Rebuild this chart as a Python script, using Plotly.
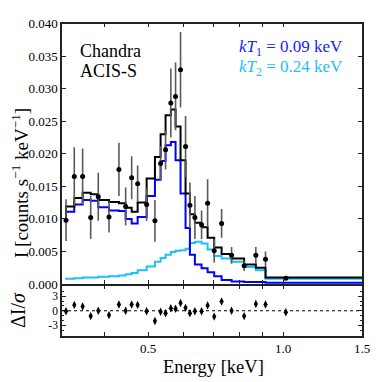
import plotly.graph_objects as go

# Chandra ACIS-S spectrum, two-temperature fit
energy = [0.3277, 0.3419, 0.3569, 0.3720, 0.3868, 0.4087, 0.4301, 0.4452, 0.4592, 0.4735,
          0.4959, 0.5175, 0.5328, 0.5466, 0.5616, 0.5754, 0.5903, 0.6057, 0.6194, 0.6355,
          0.6577, 0.6784, 0.7018, 0.7290, 0.7673, 0.8185, 0.8693, 0.9136, 1.014]
counts = [0.0098, 0.0165, 0.0165, 0.0102, 0.0134, 0.0103, 0.0176, 0.0119, 0.0163, 0.0154,
          0.0122, 0.0097, 0.0185, 0.0206, 0.0278, 0.0288, 0.0329, 0.0211, 0.0121, 0.0102,
          0.0091, 0.0124, 0.0051, 0.0093, 0.0044, 0.0028, 0.0044, 0.0038, 0.0009]
counts_err = [0.0032, 0.0045, 0.0043, 0.0033, 0.0037, 0.0024, 0.0041, 0.0029, 0.0033, 0.0028,
              0.0025, 0.0032, 0.0027, 0.0030, 0.0053, 0.0052, 0.0058, 0.0047, 0.0035, 0.0033,
              0.0022, 0.0037, 0.0018, 0.0022, 0.0013, 0.0008, 0.0013, 0.0012, 0.0003]
residual = [-0.1, 1.2, 0.9, -1.1, 0.0, -0.9, 1.3, 0.0, 1.3, 1.2,
            -0.1, -2.1, -0.2, -0.5, 0.5, 0.4, 1.6, 0.6, -0.5, -0.1,
            -0.1, 1.1, -1.2, 1.9, 0.0, -1.1, 1.4, 1.3, -0.3]

# model steps ("pre" steps on the data grid, plus upper end of the band)
e_max = 1.5
model_energy = energy + [e_max]
model_total = [0.0101, 0.0119, 0.0132, 0.0140, 0.0138, 0.0129, 0.0126, 0.0124, 0.0117, 0.0111,
               0.0125, 0.0162, 0.0195, 0.0230, 0.0259, 0.0268, 0.0242, 0.0190, 0.0139, 0.0107,
               0.0094, 0.0087, 0.0071, 0.0056, 0.0046, 0.0039, 0.0030, 0.0025, 0.0010, 0.0010]
model_kt1 = [0.0094, 0.0111, 0.0122, 0.0129, 0.0128, 0.0118, 0.0113, 0.0112, 0.0100, 0.0093,
             0.0103, 0.0135, 0.0160, 0.0189, 0.0213, 0.0218, 0.0190, 0.0139, 0.0086, 0.0045,
             0.0030, 0.0024, 0.0018, 0.0012, 0.0006, 0.0004, 0.0003, 0.0003, 0.0002, 0.0002]
model_kt2 = [0.0007, 0.0008, 0.0009, 0.0010, 0.0010, 0.0011, 0.0012, 0.0013, 0.0015, 0.0017,
             0.0021, 0.0027, 0.0034, 0.0040, 0.0045, 0.0049, 0.0051, 0.0052, 0.0054, 0.0063,
             0.0065, 0.0062, 0.0053, 0.0043, 0.0039, 0.0034, 0.0026, 0.0021, 0.0008, 0.0008]

x_ticks = [0.5, 1.0, 1.5]
x_ticktext = ["0.5", "1.0", "1.5"]
x_minor = [0.4, 0.6, 0.7, 0.8, 0.9]
y_ticks = [0.000, 0.005, 0.010, 0.015, 0.020, 0.025, 0.030, 0.035, 0.040]
y_ticktext = ["%.3f" % v for v in y_ticks]
res_ticks = [-3, 0, 3]
res_ticktext = ["-3", "0", "3"]

FONT = "Liberation Serif, DejaVu Serif, Times New Roman, serif"
W = H = 382

fig = go.Figure()

# model components
fig.add_trace(go.Scatter(x=model_energy, y=model_kt2, mode="lines", line_shape="vh",
                         line=dict(color="#1ec0f5", width=2), xaxis="x", yaxis="y"))
fig.add_trace(go.Scatter(x=model_energy, y=model_kt1, mode="lines", line_shape="vh",
                         line=dict(color="#0000ff", width=2), xaxis="x", yaxis="y"))
fig.add_trace(go.Scatter(x=model_energy, y=model_total, mode="lines", line_shape="vh",
                         line=dict(color="black", width=2), xaxis="x", yaxis="y"))

# data
fig.add_trace(go.Scatter(x=energy, y=counts, mode="markers",
                         marker=dict(color="black", size=5),
                         error_y=dict(type="data", array=counts_err, color="#5a5a5a",
                                      thickness=1.6, width=0),
                         xaxis="x", yaxis="y"))

# residuals
fig.add_trace(go.Scatter(x=energy, y=residual, mode="markers",
                         marker=dict(color="black", size=6, symbol="diamond-tall"),
                         xaxis="x2", yaxis="y2"))

x_dom = [62 / W, 362 / W]
top_dom = [1 - 284 / H, 1 - 23.5 / H]
bot_dom = [1 - 336 / H, 1 - 285.5 / H]

fig.add_shape(type="line", xref="x2 domain", yref="y2", x0=0, x1=1, y0=0, y1=0,
              line=dict(color="black", width=1.2, dash="dot"))

axis_common = dict(showline=True, linecolor="#222222", linewidth=1.5, mirror="ticks",
                   ticks="inside", tickcolor="#222222", ticklen=4, tickwidth=1.2,
                   showgrid=False, zeroline=False, automargin=False,
                   tickfont=dict(family=FONT, size=13, color="black"))
x_minor_ticks = dict(tickmode="array", tickvals=x_minor, ticks="inside", ticklen=4,
                     tickwidth=1.2, tickcolor="#222222", showgrid=False)

fig.update_layout(
    width=W, height=H,
    margin=dict(l=0, r=0, t=0, b=0),
    paper_bgcolor="white", plot_bgcolor="white",
    showlegend=False,
    font=dict(family=FONT, color="black"),
    xaxis=dict(axis_common, type="log", domain=x_dom, anchor="y",
               range=[-0.4935, 0.17609], tickvals=x_ticks, showticklabels=False,
               minor=x_minor_ticks),
    yaxis=dict(axis_common, domain=top_dom, anchor="x", range=[0, 0.040],
               tickvals=y_ticks, ticktext=y_ticktext),
    xaxis2=dict(axis_common, type="log", domain=x_dom, anchor="y2", matches="x",
                range=[-0.4935, 0.17609], tickvals=x_ticks, ticktext=x_ticktext,
                minor=x_minor_ticks),
    yaxis2=dict(axis_common, domain=bot_dom, anchor="x2", range=[-5.2, 5.2],
                tickvals=res_ticks, ticktext=res_ticktext,
                tickfont=dict(family=FONT, size=11.5, color="black"),
                minor=dict(dtick=1, ticks="inside", ticklen=2.5, tickcolor="#222222")),
)

fig.add_annotation(text="Chandra", xref="paper", yref="paper",
                   x=78 / W, y=1 - 51 / H, xanchor="left", yanchor="middle",
                   showarrow=False, font=dict(family=FONT, size=18))
fig.add_annotation(text="ACIS-S", xref="paper", yref="paper",
                   x=78 / W, y=1 - 71 / H, xanchor="left", yanchor="middle",
                   showarrow=False, font=dict(family=FONT, size=18))
fig.add_annotation(text="<i>kT</i><sub>1</sub> = 0.09 keV", xref="paper", yref="paper",
                   x=345 / W, y=1 - 48 / H, xanchor="right", yanchor="middle",
                   showarrow=False, font=dict(family=FONT, size=17, color="#2020ff"))
fig.add_annotation(text="<i>kT</i><sub>2</sub> = 0.24 keV", xref="paper", yref="paper",
                   x=345 / W, y=1 - 68 / H, xanchor="right", yanchor="middle",
                   showarrow=False, font=dict(family=FONT, size=17, color="#1ec0f5"))

# axis titles
fig.add_annotation(text="I [counts s<sup>−1</sup> keV<sup>−1</sup>]", xref="paper", yref="paper",
                   x=20 / W, y=1 - 183 / H, textangle=-90, showarrow=False,
                   xanchor="center", yanchor="middle", font=dict(family=FONT, size=19))
fig.add_annotation(text="ΔI/<i>σ</i>", xref="paper", yref="paper",
                   x=18 / W, y=1 - 310 / H, textangle=-90, showarrow=False,
                   xanchor="center", yanchor="middle", font=dict(family=FONT, size=20))
fig.add_annotation(text="Energy [keV]", xref="paper", yref="paper",
                   x=213 / W, y=1 - 367 / H, showarrow=False,
                   xanchor="center", yanchor="middle", font=dict(family=FONT, size=18.5))

fig.write_html("out.html", config={"displayModeBar": False},
               post_script="document.body.style.margin='0';document.body.style.overflow='hidden';")
